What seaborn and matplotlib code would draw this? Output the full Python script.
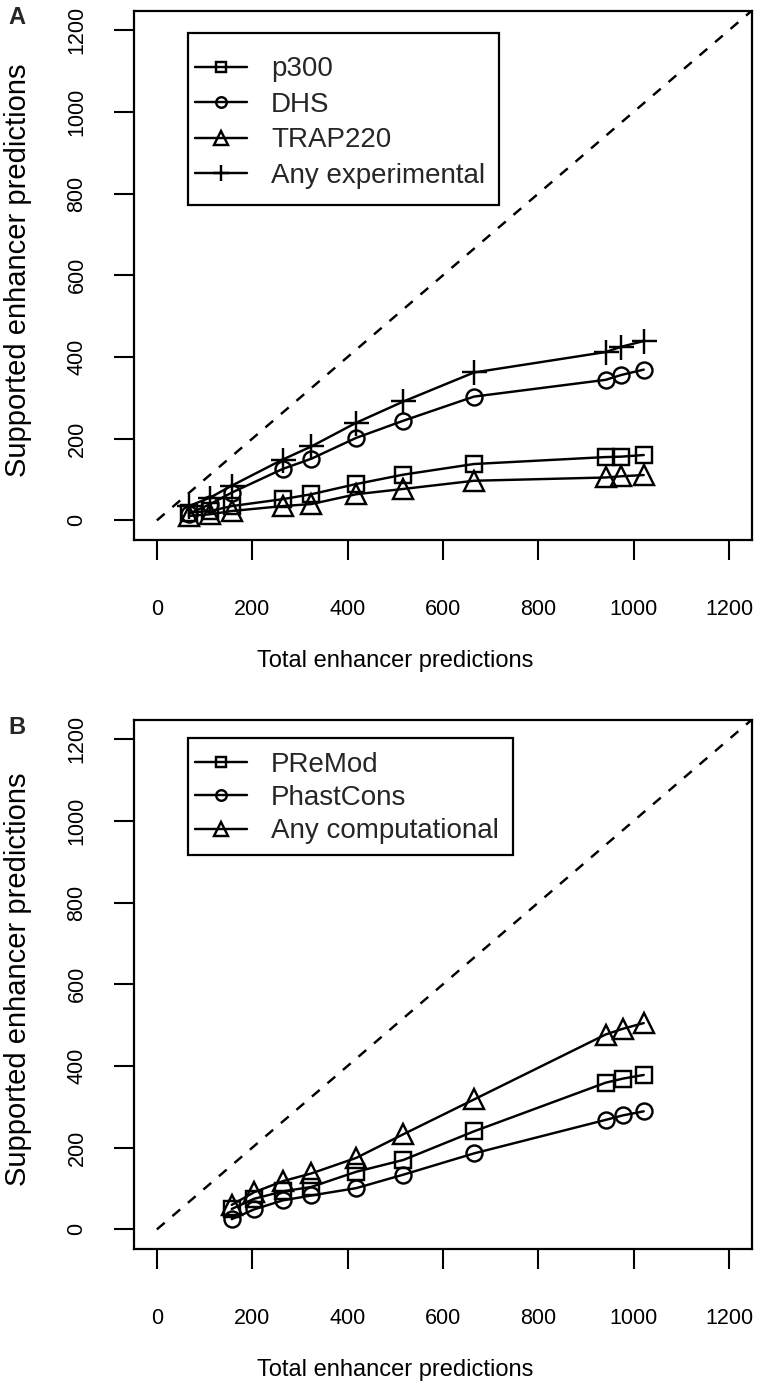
import matplotlib
matplotlib.use("Agg")
import matplotlib.pyplot as plt
from matplotlib.patches import Rectangle
import seaborn as sns
import numpy as np

sns.set_theme(style="white")
plt.rcParams['font.family'] = ['Liberation Sans', 'DejaVu Sans']

# ---------------- data ----------------
# Panel A (experimental support)
x_a = [67, 112, 157, 264, 324, 418, 517, 665, 941, 974, 1021]
p300 = [19, 23, 35, 52, 64, 89, 112, 138, 155, 156, 160]
dhs = [16, 40, 68, 126, 151, 202, 244, 303, 344, 356, 369]
trap220 = [11, 15, 23, 35, 40, 64, 77, 97, 105, 108, 111]
any_exp = [35, 56, 85, 149, 181, 239, 291, 362, 412, 425, 439]

# Panel B (computational support)
x_b = [157, 204, 264, 324, 418, 517, 665, 941, 977, 1021]
premod = [50, 75, 93, 104, 141, 170, 240, 359, 369, 378]
phastcons = [25, 49, 71, 83, 101, 134, 186, 268, 279, 289]
any_comp = [60, 91, 118, 137, 175, 233, 318, 477, 491, 505]

diag = [0, 1260]
ticks = [0, 200, 400, 600, 800, 1000, 1200]
lims = (-48, 1248)

series_a = [("p300", p300, "s"), ("DHS", dhs, "o"),
            ("TRAP220", trap220, "^"), ("Any experimental", any_exp, "+")]
series_b = [("PReMod", premod, "s"), ("PhastCons", phastcons, "o"),
            ("Any computational", any_comp, "^")]

msize = {"s": 11.5, "o": 11.5, "^": 15, "+": 18}

W, H = 757, 1392
fig = plt.figure(figsize=(W / 100, H / 100), dpi=100)
AX_H = 529.5
axA = fig.add_axes([134 / W, 1 - 540 / H, 618 / W, AX_H / H])
axB = fig.add_axes([134 / W, 1 - 1249 / H, 618 / W, AX_H / H])

LW = 1.75
LEG_FS = 20
XLAB_FS = 17
YLAB_FS = 21


def draw(ax, xs, series, first_row_top_px, spacing):
    sns.lineplot(x=diag, y=diag, ax=ax, color="black", linewidth=LW,
                 linestyle=(0, (4.2, 4.2)), sort=False)
    for name, ys, mk in series:
        sns.lineplot(x=xs, y=ys, ax=ax, color="black", linewidth=LW,
                     marker=mk, markersize=msize[mk], markerfacecolor="none",
                     markeredgecolor="black", markeredgewidth=LW,
                     label=name, sort=True)
    ax.set_xlim(*lims)
    ax.set_ylim(*lims)
    ax.set_xticks(ticks)
    ax.set_yticks(ticks)
    ax.set_xticklabels([str(t) for t in ticks])
    ax.set_yticklabels([str(t) for t in ticks])
    ax.tick_params(axis="both", direction="out", length=14.5, width=1.5,
                   color="black", labelsize=15.5, labelcolor="black",
                   bottom=True, left=True)
    ax.tick_params(axis="x", pad=28)
    ax.tick_params(axis="y", pad=19)
    for lab in ax.get_yticklabels():
        lab.set_rotation(90)
        lab.set_va("center")
        lab.set_ha("right")
    for sp in ax.spines.values():
        sp.set_visible(True)
        sp.set_color("black")
        sp.set_linewidth(1.6)
    ax.set_xlabel("Total enhancer predictions", fontsize=XLAB_FS,
                  color="black", va="center", ha="center")
    ax.set_ylabel("Supported enhancer predictions", fontsize=YLAB_FS,
                  color="black", va="center", ha="center")
    ax.xaxis.set_label_coords((395 - 134) / 618, (540 - 661) / AX_H)
    ax.yaxis.set_label_coords((18 - 134) / 618, 0.51)
    fs_px = LEG_FS * 100 / 72
    leg = ax.legend(loc="upper left",
                    bbox_to_anchor=((195 - 134) / 618,
                                    1 - first_row_top_px / AX_H),
                    frameon=False, fontsize=LEG_FS,
                    handlelength=52 / fs_px, handletextpad=24 / fs_px,
                    labelspacing=spacing, borderpad=0.0, borderaxespad=0.0,
                    markerscale=0.66)
    ax.grid(False)
    return leg


# first row top measured from the top of each axes box (pixels)
legA = draw(axA, x_a, series_a, 46, 0.34)
legB = draw(axB, x_b, series_b, 32, 0.27)

fig.canvas.draw()
inv = fig.transFigure.inverted()
# (left, bottom, right, top) padding of each legend frame in pixels
pads = [(legA, (7, 16, 14, 23)), (legB, (7, 10, 14, 14))]
for leg, (pl, pb, pr, pt) in pads:
    bb = leg.get_window_extent()
    x0, y0 = inv.transform((bb.x0 - pl, bb.y0 - pb))
    x1, y1 = inv.transform((bb.x1 + pr, bb.y1 + pt))
    fig.add_artist(Rectangle((x0, y0), x1 - x0, y1 - y0,
                             transform=fig.transFigure, fill=False,
                             edgecolor="black", linewidth=1.6, zorder=5))

fig.text(8 / W, 1 - 18 / H, "A", fontsize=17, fontweight="bold", va="center")
fig.text(8 / W, 1 - 727 / H, "B", fontsize=17, fontweight="bold", va="center")

fig.savefig("out.png", dpi=100)
